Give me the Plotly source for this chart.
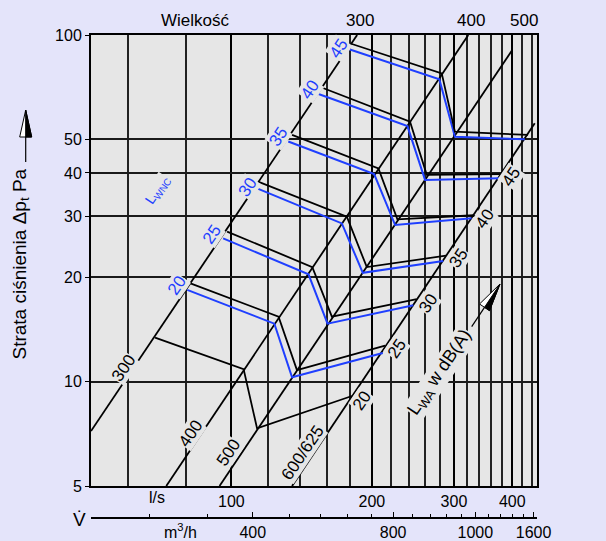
import math
import plotly.graph_objects as go

# ---------------- data ----------------
# flow-rate axis (l/s) and pressure loss axis (Pa)
x_major = [100, 200, 300, 400]
x_major_text = ["100", "200", "300", "400"]
x_minor = [60, 80, 120, 140, 160, 180, 220, 240, 260, 280, 320, 340, 360, 380, 420, 440]
y_ticks = [5, 10, 20, 30, 40, 50, 100]
y_ticktext = ["5", "10", "20", "30", "40", "50", "100"]

# secondary flow axis in m3/h
m3h_major = [400, 800, 1200, 1600]
m3h_major_text = ["400", "800", "1000", "1600"]
m3h_minor = [240, 320, 480, 560, 640, 720, 880, 960, 1040, 1120, 1280, 1360, 1440, 1520]

# size lines (Wielkość)
sizes = ["300", "400", "500", "600/625"]
size_V = [[50.0, 186.0], [72.5, 322.0], [94.3, 400.0], [134.9, 447.0]]
size_dp = [[7.2, 100.0], [5.0, 100.0], [5.0, 90.5], [5.0, 55.6]]

# L_WA iso-lines (black)
lwa_levels = [20, 25, 30, 35, 40, 45, 50]
lwa_V = [
    [68.6, 106.2, 113.5, 181.3],
    [81.7, 126.2, 138.2, 213.5],
    [97.9, 149.1, 164.2, 249.6],
    [114.4, 176.8, 195.1, 288.4],
    [134.9, 206.6, 226.9, 331.1],
    [157.6, 241.5, 262.3, 379.5],
    [181.3, 282.4, 301.4, 432.5],
]
lwa_dp = [
    [13.4, 10.87, 7.33, 9.09],
    [19.2, 15.4, 10.8, 12.7],
    [27.1, 21.4, 15.4, 17.3],
    [37.7, 29.9, 21.4, 23.1],
    [51.5, 41.2, 29.4, 30.2],
    [70.2, 56.2, 39.5, 39.7],
    [94.2, 77.5, 52.6, 51.5],
]

# L_WNC iso-lines (blue)
lwnc_levels = [20, 25, 30, 35, 40, 45]
lwnc_V = [
    [80.4, 123.6, 134.9, 211.1],
    [96.0, 146.3, 160.7, 245.5],
    [113.5, 172.5, 191.3, 284.6],
    [132.4, 202.3, 224.4, 327.3],
    [153.7, 238.4, 260.1, 375.1],
    [178.2, 279.1, 301.4, 425.6],
]
lwnc_dp = [
    [18.4, 14.7, 10.3, 12.1],
    [25.9, 20.4, 14.7, 16.6],
    [36.1, 28.6, 20.6, 22.3],
    [49.3, 39.7, 28.3, 29.6],
    [67.6, 54.6, 38.2, 38.6],
    [91.1, 74.5, 50.9, 50.0],
]

# label anchor positions (V, dp)
size_label_pos = [(58.7, 10.9), (81.7, 7.11), (98.5, 6.26), (141.7, 6.22)]
size_top_label_V = [189.0, 326.0, 424.0]
lwa_label_pos = [(190.4, 8.85), (226.2, 12.5), (264.3, 16.8), (306.4, 22.7),
                 (349.5, 29.6), (398.7, 39.0), (454.5, 50.9)]
lwnc_label_pos = [(76.5, 18.9), (90.9, 26.5), (108.1, 36.4), (126.2, 50.9),
                  (147.6, 69.4), (169.7, 91.5)]

# ---------------- style ----------------
FONT = "Liberation Sans, Arial, sans-serif"
PAGE_BG = "#e4e4fa"
PLOT_BG = "#e6e6e6"
BLUE = "#1f3fff"
W, H = 606, 541
ML, MR, MT, MB = 91, 69, 35, 15
X_RANGE = [math.log10(50), math.log10(452)]
Y_RANGE = [math.log10(5), 2]
PLOT_BOTTOM = 486
paper_h = H - MT - MB
paper_w = W - ML - MR


def pxx(p):
    return (p - ML) / paper_w


def pxy(p):
    return (H - MB - p) / paper_h


fig = go.Figure()

# size lines
for V, dp in zip(size_V, size_dp):
    fig.add_trace(go.Scatter(x=V, y=dp, mode="lines",
                             line=dict(color="black", width=1.8),
                             hoverinfo="skip", showlegend=False))
# LWNC lines (blue)
for V, dp in zip(lwnc_V, lwnc_dp):
    fig.add_trace(go.Scatter(x=V, y=dp, mode="lines",
                             line=dict(color=BLUE, width=2),
                             hoverinfo="skip", showlegend=False))
# LWA lines (black)
for V, dp in zip(lwa_V, lwa_dp):
    fig.add_trace(go.Scatter(x=V, y=dp, mode="lines",
                             line=dict(color="black", width=1.8),
                             hoverinfo="skip", showlegend=False))

# dummy trace to carry the m3/h axis
fig.add_trace(go.Scatter(x=[100], y=[10], xaxis="x2", mode="markers",
                         marker=dict(opacity=0), hoverinfo="skip", showlegend=False))

ann = []
ANG = -56


def lab(V, dp, text, color="black", size=17, angle=ANG, bg=PLOT_BG, **kw):
    d = dict(x=math.log10(V), y=math.log10(dp), xref="x", yref="y", text=text,
             showarrow=False, textangle=angle, bgcolor=bg, borderpad=0,
             xanchor="center", yanchor="middle",
             font=dict(family=FONT, size=size, color=color))
    d.update(kw)
    ann.append(d)


def note(x, y, text, xref="paper", yref="paper", size=16, **kw):
    d = dict(x=x, y=y, xref=xref, yref=yref, text=text, showarrow=False,
             xanchor="center", yanchor="middle",
             font=dict(family=FONT, size=size, color="black"))
    d.update(kw)
    ann.append(d)


for (V, dp), t in zip(size_label_pos, sizes):
    lab(V, dp, t)
for (V, dp), lv in zip(lwa_label_pos, lwa_levels):
    lab(V, dp, str(lv))
for (V, dp), lv in zip(lwnc_label_pos, lwnc_levels):
    lab(V, dp, str(lv), color=BLUE)

lab(69.5, 35.7, "L<sub>WNC</sub>", color=BLUE, size=14)
lab(280.7, 10.6, "L<sub>WA</sub> w dB(A)", size=18)

top_y = pxy(20)
for V, t in zip(size_top_label_V, sizes[:3]):
    note(math.log10(V), top_y, t, xref="x", size=17)
note(math.log10(83.8), top_y, "Wielkość", xref="x", size=17)
note(math.log10(460.7), math.log10(58.4), sizes[3], xref="x", yref="y", size=17,
     xanchor="left")
note(math.log10(69.4), pxy(497), "l/s", xref="x")
note(math.log10(77.8), pxy(531), "m<sup>3</sup>/h", xref="x")
note(pxx(79), pxy(519), "V\u0307", size=19)
note(pxx(20.5), pxy(264), "Strata ciśnienia Δp<sub>t</sub> Pa", size=19, textangle=-90)

# decorative arrows (half white / half black heads)
shapes = []


def arrow(tail, tip, head_len=27, half_w=6):
    (tx, ty), (hx, hy) = tail, tip
    L = math.hypot(hx - tx, hy - ty)
    ux, uy = (hx - tx) / L, (hy - ty) / L
    nx, ny = -uy, ux
    bx, by = hx - ux * head_len, hy - uy * head_len
    lx, ly = bx - nx * half_w, by - ny * half_w
    rx, ry = bx + nx * half_w, by + ny * half_w

    def P(x, y):
        return f"{pxx(x):.5f},{pxy(y):.5f}"
    shapes.append(dict(type="line", xref="paper", yref="paper",
                       x0=pxx(tx), y0=pxy(ty), x1=pxx(bx), y1=pxy(by),
                       line=dict(color="black", width=1.2)))
    shapes.append(dict(type="path", xref="paper", yref="paper",
                       path=f"M {P(lx, ly)} L {P(hx, hy)} L {P(rx, ry)} Z",
                       fillcolor="white", line=dict(color="black", width=1)))
    # darker half on the right-hand side of the arrow direction
    shapes.append(dict(type="path", xref="paper", yref="paper",
                       path=f"M {P(hx, hy)} L {P(rx, ry)} L {P(bx, by)} Z",
                       fillcolor="black", line=dict(color="black", width=1)))


arrow((25.7, 162), (25.7, 110))
arrow((471.7, 326.7), (500, 284), head_len=28, half_w=6)

fig.update_layout(
    width=W, height=H, autosize=False,
    margin=dict(l=ML, r=MR, t=MT, b=MB, autoexpand=False),
    paper_bgcolor=PAGE_BG, plot_bgcolor=PLOT_BG,
    font=dict(family=FONT, size=16, color="black"),
    showlegend=False,
    annotations=ann, shapes=shapes,
    xaxis=dict(type="log", range=X_RANGE, tickmode="array", tickvals=x_major,
               ticktext=x_major_text, ticks="", showgrid=True, gridcolor="black",
               gridwidth=2, showline=True, mirror=True, linecolor="black", linewidth=2,
               zeroline=False, tickfont=dict(size=16), automargin=False,
               minor=dict(tickmode="array", tickvals=x_minor, showgrid=True,
                          gridcolor="#222222", gridwidth=1.6, ticks="")),
    xaxis2=dict(type="log", range=X_RANGE, overlaying="x", anchor="free",
                position=pxy(518), side="bottom", tickmode="array",
                tickvals=[v / 3.6 for v in m3h_major], ticktext=m3h_major_text,
                ticks="inside", ticklen=5, tickwidth=1.2, tickcolor="black",
                showgrid=False, showline=True, linecolor="black", linewidth=1.5,
                zeroline=False, tickfont=dict(size=16), ticklabelstandoff=0,
                automargin=False,
                minor=dict(tickmode="array", tickvals=[v / 3.6 for v in m3h_minor],
                           ticks="inside", ticklen=3, tickwidth=1, tickcolor="black",
                           showgrid=False)),
    yaxis=dict(type="log", range=Y_RANGE, domain=[pxy(PLOT_BOTTOM), 1],
               tickmode="array", tickvals=y_ticks, ticktext=y_ticktext,
               ticks="outside", ticklen=4, tickcolor="black", showgrid=True,
               gridcolor="#1a1a1a", gridwidth=1.5, showline=True, mirror=True,
               linecolor="black", linewidth=2, zeroline=False, tickfont=dict(size=16),
               automargin=False),
)

fig.write_html("out.html")
